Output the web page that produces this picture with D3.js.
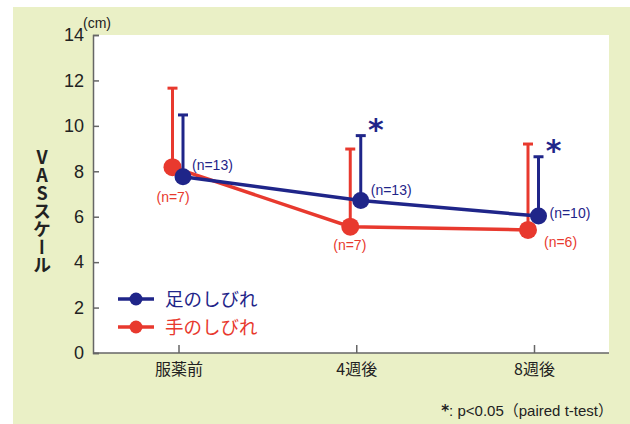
<!DOCTYPE html>
<html>
<head>
<meta charset="utf-8">
<script src="https://cdn.jsdelivr.net/npm/d3@7"></script>
<style>
  body { margin: 0; background: #fff; }
  text { font-family: "Noto Sans CJK JP", "Noto Sans", sans-serif; }
</style>
</head>
<body>
<svg id="chart"></svg>
<script>
// time points
let timepoints = ['服薬前', '4週後', '8週後'];
let yTicks = [0, 2, 4, 6, 8, 10, 12, 14];

// 足のしびれ (mean, mean + SD, n)
let footMean = [7.76, 6.71, 6.03];
let footUpper = [10.48, 9.57, 8.64];
let footN = ['(n=13)', '(n=13)', '(n=10)'];
let footSig = [false, true, true];

// 手のしびれ
let handMean = [8.18, 5.56, 5.42];
let handUpper = [11.66, 8.98, 9.2];
let handN = ['(n=7)', '(n=7)', '(n=6)'];

let blue = '#1f2589';
let red = '#e8392e';
let latin = '"Liberation Sans", Arial, sans-serif';

// label nudges relative to each point [dx, dy]
let footLabelPos = [[9, -7], [10, -6], [11, 2]];
let handLabelPos = [[-16, 35], [-17, 23], [16, 17]];

let svg = d3.select('#chart').attr('width', 630).attr('height', 424);

// background panel
svg.append('rect').attr('x', 13).attr('y', 7).attr('width', 617).attr('height', 417).attr('fill', '#eaf0c6');

let pLeft = 93, pRight = 609, pTop = 35, pBottom = 353;
svg.append('rect').attr('x', pLeft).attr('y', pTop).attr('width', pRight - pLeft).attr('height', pBottom - pTop).attr('fill', '#fff');

let x = d3.scalePoint().domain(timepoints).range([178.5, 534]);
let y = d3.scaleLinear().domain([0, 14]).range([pBottom, pTop]);

// y axis
let yAxis = svg.append('g')
  .attr('transform', `translate(${pLeft},0)`)
  .call(d3.axisLeft(y).tickValues(yTicks).tickSize(-6).tickPadding(9));
yAxis.select('.domain').attr('stroke', '#666').attr('stroke-width', 1.5);
yAxis.selectAll('.tick line').attr('stroke', '#666').attr('stroke-width', 1.5);
yAxis.selectAll('.tick text')
  .attr('font-size', 18).attr('fill', '#222')
  .style('font-family', latin);

// x axis
let xAxis = svg.append('g')
  .attr('transform', `translate(0,${pBottom})`)
  .call(d3.axisBottom(x).tickSize(-8).tickPadding(11));
xAxis.select('.domain').attr('d', `M${pLeft},0H${pRight}`).attr('stroke', '#666').attr('stroke-width', 1.5);
xAxis.selectAll('.tick line').attr('stroke', '#666').attr('stroke-width', 1.5);
xAxis.selectAll('.tick text').attr('font-size', 16).attr('fill', '#222');

// unit
svg.append('text').attr('x', 83).attr('y', 28).attr('font-size', 14).attr('fill', '#222')
  .style('font-family', latin).text('(cm)');

// y label, upright vertical text
svg.append('text')
  .attr('x', 42)
  .attr('y', 148)
  .attr('font-size', 18)
  .attr('font-weight', 'bold')
  .attr('fill', '#222')
  .style('writing-mode', 'vertical-rl')
  .style('text-orientation', 'upright')
  .text('VASスケール');

function drawSeries(mean, upper, labels, color, dx, r) {
  let pts = timepoints.map((t, i) => ({ t, m: mean[i], u: upper[i], n: labels[i], cx: x(t) + dx }));
  let g = svg.append('g');
  g.selectAll('line.err')
    .data(pts)
    .join('line')
    .attr('x1', (d) => d.cx).attr('x2', (d) => d.cx)
    .attr('y1', (d) => y(d.m)).attr('y2', (d) => y(d.u))
    .attr('stroke', color).attr('stroke-width', 3);
  g.selectAll('line.cap')
    .data(pts)
    .join('line')
    .attr('x1', (d) => d.cx - 5).attr('x2', (d) => d.cx + 5)
    .attr('y1', (d) => y(d.u)).attr('y2', (d) => y(d.u))
    .attr('stroke', color).attr('stroke-width', 3);
  g.append('path')
    .datum(pts)
    .attr('fill', 'none').attr('stroke', color).attr('stroke-width', 3.5)
    .attr('d', d3.line().x((d) => d.cx).y((d) => y(d.m)));
  g.selectAll('circle')
    .data(pts)
    .join('circle')
    .attr('cx', (d) => d.cx).attr('cy', (d) => y(d.m)).attr('r', r)
    .attr('fill', color);
  return pts;
}

let handPts = drawSeries(handMean, handUpper, handN, red, -6, 9);
let footPts = drawSeries(footMean, footUpper, footN, blue, 4.5, 8.5);

// n labels
svg.append('g').selectAll('text')
  .data(footPts)
  .join('text')
  .attr('x', (d, i) => d.cx + footLabelPos[i][0])
  .attr('y', (d, i) => y(d.m) + footLabelPos[i][1])
  .attr('font-size', 14).attr('fill', blue)
  .style('font-family', latin)
  .text((d) => d.n);

svg.append('g').selectAll('text')
  .data(handPts)
  .join('text')
  .attr('x', (d, i) => d.cx + handLabelPos[i][0])
  .attr('y', (d, i) => y(d.m) + handLabelPos[i][1])
  .attr('font-size', 14).attr('fill', red)
  .style('font-family', latin)
  .text((d) => d.n);

// significance marks
svg.append('g').selectAll('text')
  .data(footPts.filter((d, i) => footSig[i]))
  .join('text')
  .attr('x', (d) => d.cx + 15)
  .attr('y', (d) => y(d.u) + 4)
  .attr('text-anchor', 'middle')
  .attr('font-size', 30).attr('font-weight', 'bold').attr('fill', blue)
  .style('font-family', '"DejaVu Sans", sans-serif')
  .text('*');

// legend
let legend = [{ name: '足のしびれ', color: blue }, { name: '手のしびれ', color: red }];
let lg = svg.append('g').selectAll('g')
  .data(legend)
  .join('g')
  .attr('transform', (d, i) => `translate(0,${299 + i * 28})`);
lg.append('line').attr('x1', 118).attr('x2', 154).attr('stroke', (d) => d.color).attr('stroke-width', 3.5);
lg.append('circle').attr('cx', 136).attr('r', 6.5).attr('fill', (d) => d.color);
lg.append('text').attr('x', 165).attr('y', 7).attr('font-size', 18.5)
  .attr('fill', (d) => d.color).text((d) => d.name);

// footnote
let foot = svg.append('text').attr('x', 613).attr('y', 416).attr('text-anchor', 'end')
  .attr('font-size', 15).attr('fill', '#222');
foot.append('tspan').style('font-family', '"DejaVu Sans", sans-serif').attr('font-weight', 'bold').text('*');
foot.append('tspan').style('font-family', latin).text(': p<0.05');
foot.append('tspan').text('（');
foot.append('tspan').style('font-family', latin).text('paired t-test');
foot.append('tspan').text('）');
</script>
</body>
</html>
